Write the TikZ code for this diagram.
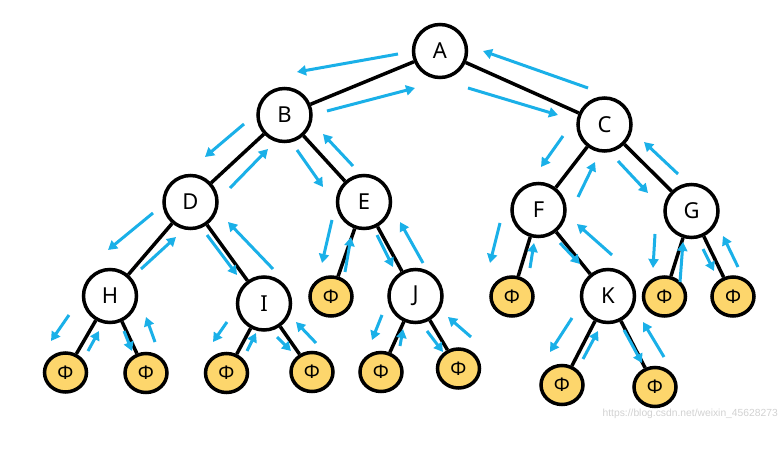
\documentclass[tikz,border=0pt]{standalone}
\usepackage{fontspec}
\setmainfont{Noto Sans}
\newfontfamily\wmfont{Liberation Sans}
\usetikzlibrary{arrows.meta,shapes.geometric}
\definecolor{arrowblue}{HTML}{1AB0E8}
\definecolor{leafyellow}{HTML}{FDD66C}
\begin{document}
\begin{tikzpicture}[x=1pt,y=-1pt,
  inner/.style={circle,draw=black,line width=3.5pt,fill=white,minimum size=53pt,inner sep=0pt,font=\fontsize{22}{22}\selectfont},
  leaf/.style={ellipse,draw=black,line width=3.5pt,fill=leafyellow,minimum width=42pt,minimum height=39pt,inner sep=0pt,font=\fontsize{19}{19}\selectfont},
  edge/.style={line width=3.5pt,black},
  trav/.style={arrowblue,line width=3pt,-{Triangle[length=9pt,width=10pt]}}]
\useasboundingbox (0,0) rectangle (779,449);
% internal nodes
\node[inner] (A) at (440,51) {A};
\node[inner] (B) at (284.5,115) {B};
\node[inner] (C) at (604.5,124.5) {C};
\node[inner] (D) at (190.5,202) {D};
\node[inner] (E) at (364,202) {E};
\node[inner] (F) at (538.5,210) {F};
\node[inner] (G) at (691.5,211) {G};
\node[inner] (H) at (110,296) {H};
\node[inner] (I) at (264,303.5) {I};
\node[inner] (J) at (415.5,296) {J};
\node[inner] (K) at (608,296) {K};
% leaves
\node[leaf] (Hl) at (65.5,372.5) {Φ};
\node[leaf] (Hr) at (146,373) {Φ};
\node[leaf] (Il) at (226.5,373) {Φ};
\node[leaf] (Ir) at (312,372) {Φ};
\node[leaf] (El) at (331,296.5) {Φ};
\node[leaf] (Jl) at (381,372) {Φ};
\node[leaf] (Jr) at (458.5,368.5) {Φ};
\node[leaf] (Fl) at (512,296.5) {Φ};
\node[leaf] (Kl) at (562,385) {Φ};
\node[leaf] (Kr) at (655,387) {Φ};
\node[leaf] (Gl) at (664.5,296.5) {Φ};
\node[leaf] (Gr) at (733,296.5) {Φ};
% edges
\foreach \p/\q in {A/B,A/C,B/D,B/E,C/F,C/G,D/H,D/I,E/El,E/J,F/Fl,F/K,G/Gl,G/Gr,H/Hl,H/Hr,I/Il,I/Ir,J/Jl,J/Jr,K/Kl,K/Kr}
  \draw[edge] (\p) -- (\q);
% traversal arrows
\foreach \x/\y/\u/\v in {
398/54/297/72, 327/111/415/88, 244/124/205/157, 230/188/268/149,
297/150/323/187, 353/166/323/134, 468/88/558/115, 588/88/483/51,
563/136/541/167, 578/197/595/162, 618/161/648/193, 678/174/644/142,
153/213/108/250, 141/269/176/237, 207/235/237/275, 273/269/228/222,
69/315/51/341, 88/351/99/331, 124/331/132/351, 155/342/146/317,
227/322/213/342, 247/351/256/333, 277/337/291/351, 316/343/296/322,
332/220/322/263, 345/272/351/237, 377/235/393/267, 423/263/400/222,
382/315/372/340, 400/346/403/329, 427/331/443/352, 471/337/448/317,
500/223/490/263, 530/268/534/243, 560/243/580/264, 612/255/577/224,
572/318/550/352, 583/359/598/331, 624/330/642/363, 664/357/643/322,
655/234/653/268, 680/282/683/242, 703/249/714/271, 738/267/723/236}
  \draw[trav] (\x,\y) -- (\u,\v);
% watermark
\node[anchor=east,inner sep=0pt,text=black!18,font=\wmfont\fontsize{10.3}{10.3}\selectfont] (wm) at (778,414) {https://blog.csdn.net/weixin\_45628273};
\end{tikzpicture}
\end{document}
